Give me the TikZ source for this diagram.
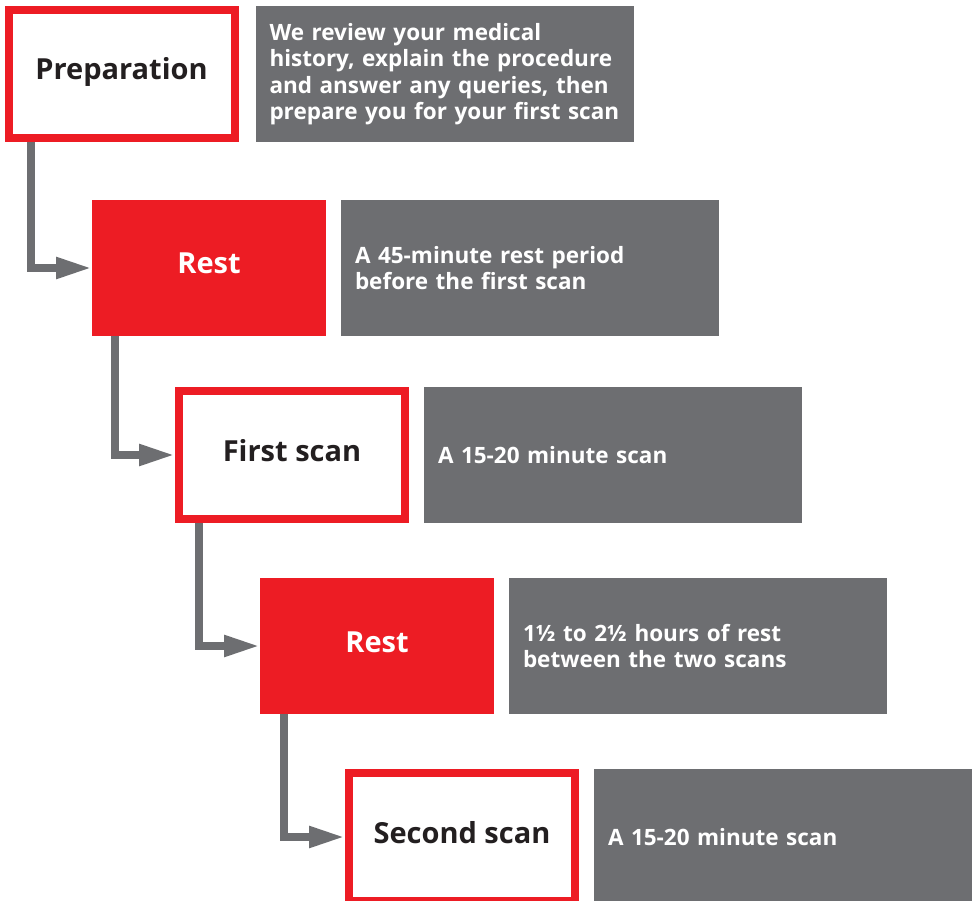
\documentclass[tikz,border=0pt]{standalone}
\usepackage{fontspec}
\setmainfont{Open Sans}
\usepackage{xcolor}
\usetikzlibrary{arrows.meta, positioning}

\definecolor{stepred}{HTML}{ED1C24}
\definecolor{infogray}{HTML}{6D6E71}
\definecolor{inkblack}{HTML}{231F20}

\begin{document}
\begin{tikzpicture}[
  x=1pt, y=-1pt,
  scanbox/.style={
    draw=stepred, line width=8pt, fill=white,
    minimum width=226pt, minimum height=128pt, inner sep=0pt,
    text height=20pt, text depth=8pt,
    font=\fontsize{29}{32}\selectfont\bfseries, text=inkblack
  },
  restbox/.style={
    fill=stepred, minimum width=234pt, minimum height=136pt,
    inner sep=0pt, outer sep=0pt,
    text height=20pt, text depth=8pt,
    font=\fontsize{29}{32}\selectfont\bfseries, text=white
  },
  info/.style={
    fill=infogray, minimum width=378pt, minimum height=136pt,
    text width=350pt, inner xsep=14pt, inner ysep=0pt, outer sep=0pt,
    align=left, font=\fontsize{22.5}{26.5}\selectfont\bfseries, text=white
  },
  flow/.style={
    draw=infogray, line width=8pt,
    -{Triangle[length=36pt, width=20pt]}
  },
]

\useasboundingbox (0,0) rectangle (977,901);
\clip (0,0) rectangle (977,901);

%%% Step boxes
\node[scanbox] (prep)  at (121.5,74) {Preparation};
\node[restbox] (rest1) at (209,268)  {Rest};
\node[scanbox] (scan1) at (292,455)  {First scan};
\node[restbox] (rest2) at (377,646)  {Rest};
\node[scanbox] (scan2) at (462,837)  {Second scan};

%%% Descriptions, to the right of each step
\node[info, right=17pt of prep]  (info1)
  {We review your medical\\history, explain the procedure\\and answer any queries, then\\\mbox{prepare you for your first scan}};
\node[info, right=15pt of rest1] (info2)
  {A 45-minute rest period\\before the first scan};
\node[info, right=15pt of scan1] (info3)
  {A 15-20 minute scan};
\node[info, right=15pt of rest2] (info4)
  {1½ to 2½ hours of rest\\between the two scans};
\node[info, right=15pt of scan2] (info5)
  {A 15-20 minute scan};

%%% Connectors
\draw[flow] ([xshift=26pt]prep.south west)  |- (rest1.west);
\draw[flow] ([xshift=23pt]rest1.south west) |- (scan1.west);
\draw[flow] ([xshift=24pt]scan1.south west) |- (rest2.west);
\draw[flow] ([xshift=24pt]rest2.south west) |- (scan2.west);

\end{tikzpicture}
\end{document}
